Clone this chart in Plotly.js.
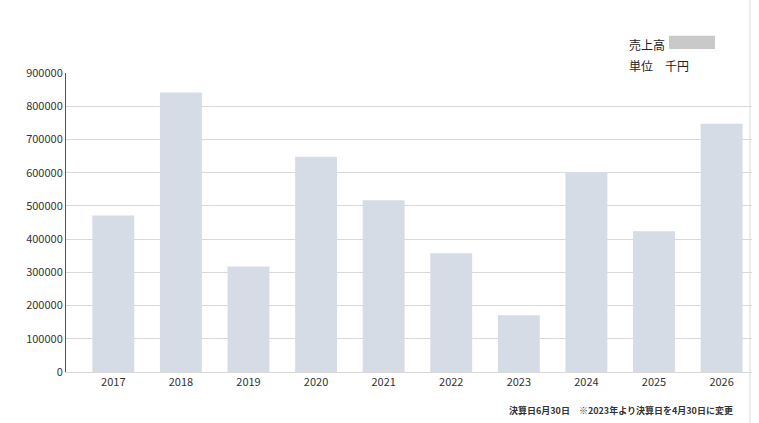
<!DOCTYPE html><html><head><meta charset="utf-8"><script src="https://cdn.plot.ly/plotly-3.0.1.min.js"></script>
<style>body{margin:0}</style></head><body><div id="c" style="width:759px;height:423px"></div><script>
const years=['2017','2018','2019','2020','2021','2022','2023','2024','2025','2026'];
const sales=[470902,841470,317305,647908,516611,357078,171042,602306,424010,747329];
const f='"Noto Sans CJK JP", "Noto Sans", sans-serif';
const ann=years.map((y,i)=>({x:y,y:sales[i],text:sales[i].toLocaleString('en-US'),showarrow:false,yshift:-14,font:{size:11,color:'#333',family:f}}));
const px=(x)=>(x-66)/(752-66);
ann.push({xref:'paper',yref:'paper',x:px(735),xanchor:'right',y:-0.1,yanchor:'top',text:'<b>決算日6月30日　※2023年より決算日を4月30日に変更</b>',showarrow:false,font:{size:9,color:'#333',family:f}});
ann.push({xref:'paper',yref:'paper',x:px(627),xanchor:'left',y:1.13,text:'売上高',showarrow:false,font:{size:12,color:'#222',family:f}});
ann.push({xref:'paper',yref:'paper',x:px(627),xanchor:'left',y:1.06,text:'単位　千円',showarrow:false,font:{size:12,color:'#222',family:f}});
Plotly.newPlot('c',[{type:'bar',x:years,y:sales,marker:{color:'#d6dce5'},width:0.62,hoverinfo:'none'}],{
width:759,height:423,margin:{l:66,r:7,t:73,b:51},paper_bgcolor:'#fff',plot_bgcolor:'#fff',showlegend:false,
font:{family:f,size:11,color:'#333'},
xaxis:{type:'category',range:[-0.7,9.45],tickmode:'array',tickvals:years,ticktext:years,showline:true,linecolor:'#d9d9d9',ticks:'',tickfont:{size:11}},
yaxis:{range:[0,900000],dtick:100000,tickformat:'d',gridcolor:'#d9d9d9',showline:true,linecolor:'#44546a',zeroline:false,tickfont:{size:11}},
annotations:ann,
shapes:[{type:'rect',xref:'paper',yref:'paper',x0:px(669),x1:px(715),y0:1.08,y1:1.125,fillcolor:'#c9c9c9',line:{width:0}},
{type:'line',xref:'paper',yref:'paper',x0:px(750),x1:px(750),y0:-0.2,y1:1.3,line:{color:'#d9d9d9',width:1}}]
},{staticPlot:true});
</script></body></html>
